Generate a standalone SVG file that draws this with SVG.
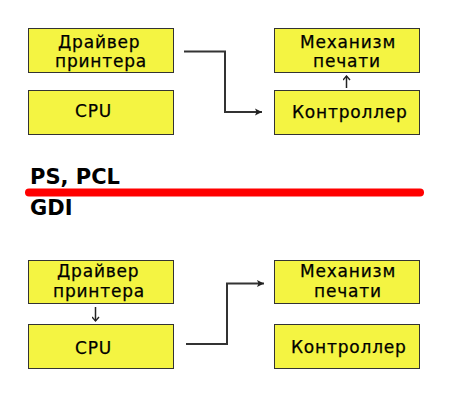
<svg xmlns="http://www.w3.org/2000/svg" width="450" height="400" viewBox="0 0 450 400">
<defs>
<style>
.box{fill:#f4f442;stroke:#333;stroke-width:1}
.t{font-family:"DejaVu Sans",sans-serif;font-size:17px;letter-spacing:0.8px;fill:#000;stroke:#000;stroke-width:0.25}
.h{font-family:"DejaVu Sans",sans-serif;font-size:21px;font-weight:bold;fill:#000}
.c{fill:none;stroke:#333;stroke-width:2}
.s{fill:none;stroke:#222;stroke-width:1.5}
</style>
<marker id="ah" markerWidth="8" markerHeight="8" refX="7" refY="4" orient="auto" markerUnits="userSpaceOnUse">
<path d="M0,0.5 L7,4 L0,7.5 L1.5,4 z" fill="#222"/>
</marker>
<marker id="sh" markerWidth="8" markerHeight="8" refX="6.5" refY="4" orient="auto" markerUnits="userSpaceOnUse">
<path d="M2.5,0.5 L6.5,4 L2.5,7.5" fill="none" stroke="#222" stroke-width="1.4"/>
</marker>
</defs>
<rect width="450" height="400" fill="#fff"/>

<g id="top-driver"><rect class="box" x="28.5" y="28.5" width="145" height="44"/><text class="t" x="58" y="48">Драйвер</text><text class="t" x="55" y="67">принтера</text></g>
<g id="top-cpu"><rect class="box" x="28.5" y="90.5" width="145" height="44"/><text class="t" x="75" y="117">CPU</text></g>
<g id="top-engine"><rect class="box" x="274.5" y="28.5" width="145" height="44"/><text class="t" x="300" y="48">Механизм</text><text class="t" x="313" y="67">печати</text></g>
<g id="top-ctrl"><rect class="box" x="274.5" y="90.5" width="145" height="44"/><text class="t" x="292" y="118">Контроллер</text></g>

<g id="divider">
<text class="h" x="30" y="184">PS, PCL</text>
<line x1="29" y1="192.5" x2="420" y2="192.5" stroke="#ff0000" stroke-width="8" stroke-linecap="round"/>
<text class="h" x="30" y="215">GDI</text>
</g>

<g id="bot-driver"><rect class="box" x="28.5" y="260.5" width="145" height="43"/><text class="t" x="57" y="277">Драйвер</text><text class="t" x="53" y="297">принтера</text></g>
<g id="bot-cpu"><rect class="box" x="28.5" y="324.5" width="145" height="44"/><text class="t" x="75" y="354">CPU</text></g>
<g id="bot-engine"><rect class="box" x="274.5" y="260.5" width="145" height="43"/><text class="t" x="300" y="277">Механизм</text><text class="t" x="314" y="297">печати</text></g>
<g id="bot-ctrl"><rect class="box" x="274.5" y="324.5" width="145" height="44"/><text class="t" x="291" y="353">Контроллер</text></g>

<g id="connectors">
<polyline class="c" points="184,51.5 225,51.5 225,112 262,112" marker-end="url(#ah)"/>
<line class="s" x1="346.5" y1="88" x2="346.5" y2="76" marker-end="url(#sh)"/>
<line class="s" x1="95.5" y1="307" x2="95.5" y2="321" marker-end="url(#sh)"/>
<polyline class="c" points="186,344 227,344 227,283.5 264,283.5" marker-end="url(#ah)"/>
</g>
</svg>
